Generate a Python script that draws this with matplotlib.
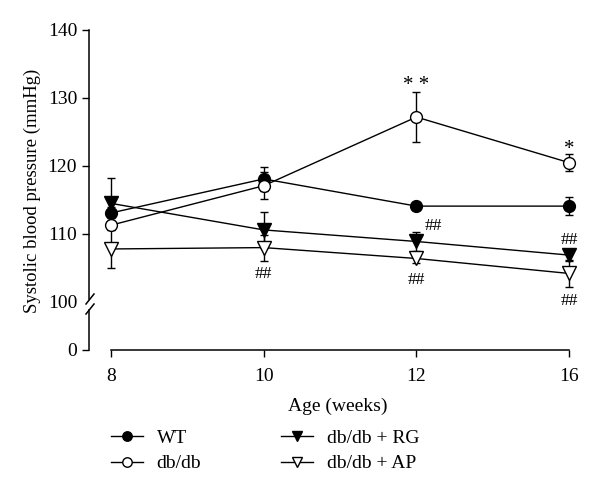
import matplotlib
matplotlib.use("Agg")
import matplotlib.pyplot as plt
from matplotlib.lines import Line2D
import numpy as np

plt.rcParams['font.family'] = ['Liberation Serif', 'DejaVu Serif']

weeks = ['8', '10', '12', '16']
series_names = ['WT', 'db/db', 'db/db + RG', 'db/db + AP']
wt = [113.1, 118.1, 114.1, 114.1]
wt_err = [0.8, 1.8, 0.6, 1.3]
dbdb = [111.3, 117.1, 127.2, 120.5]
dbdb_err = [0.6, 2.0, 3.7, 1.3]
rg = [114.5, 110.6, 108.9, 106.9]
rg_err = [3.7, 2.7, 1.4, 0.8]
ap = [107.8, 108.0, 106.4, 104.2]
ap_err = [2.8, 1.9, 0.6, 2.0]

# significance marks: (text, series, week index, dx, dy in points, size)
annots = [
    ('* *', 1, 2, 0, 23, 15),
    ('*', 1, 3, 0, 9.5, 15),
    ('##', 0, 2, 12, -14.5, 12.5),
    ('##', 2, 3, 0, 11, 12.5),
    ('##', 3, 2, 0, -15.5, 12.5),
    ('##', 3, 3, 0, -19.5, 12.5),
    ('##', 3, 1, 0, -19, 12.5),
]

W, H = 600, 493
fig = plt.figure(figsize=(6.0, 4.93), dpi=100)

def fy(px):
    return (H - px) / H

def fx(px):
    return px / W

ax_l, ax_r = 89, 569
top = fig.add_axes([fx(ax_l), fy(302), fx(ax_r - ax_l), fy(30) - fy(302)])
bot = fig.add_axes([fx(ax_l), fy(350), fx(ax_r - ax_l), fy(310) - fy(350)])

x = np.arange(len(weeks))
data = [wt, dbdb, rg, ap]
errs = [wt_err, dbdb_err, rg_err, ap_err]
markers = ['o', 'o', 'v', 'v']
faces = ['black', 'white', 'black', 'white']
msizes = [8.5, 8.5, 9.5, 9.5]

for vals, e, m, fc, ms in zip(data, errs, markers, faces, msizes):
    cont = top.errorbar(x, vals, yerr=e, color='black', lw=1.0, elinewidth=1.0,
                        capsize=2.6, capthick=1.0, marker=m, ms=ms, mfc=fc,
                        mec='black', mew=1.0, zorder=3)
    for art in cont.get_children():
        art.set_clip_on(False)

for txt, si, wi, dx, dy, fs in annots:
    top.annotate(txt, xy=(x[wi], data[si][wi]), xytext=(dx, dy),
                 textcoords='offset points', ha='center', va='center',
                 fontsize=fs)

for a in (top, bot):
    a.set_xlim(-0.145, 3)
    a.spines['top'].set_visible(False)
    a.spines['right'].set_visible(False)
    a.tick_params(axis='both', direction='out', length=5, width=1.0,
                  labelsize=14, colors='black')
    a.spines['left'].set_linewidth(1.1)
    a.spines['bottom'].set_linewidth(1.1)

top.set_ylim(100, 140)
top.set_yticks([100, 110, 120, 130, 140])
top.spines['bottom'].set_visible(False)
top.spines['left'].set_bounds(100.45, 140)
top.set_xticks([])
top.yaxis.get_major_ticks()[0].tick1line.set_visible(False)

bot.set_ylim(0, 1)
bot.set_yticks([0])
bot.spines['bottom'].set_bounds(0, 3)
bot.set_xticks(x)
bot.set_xticklabels(weeks)
bot.tick_params(axis='x', pad=8)
bot.set_xlabel('Age (weeks)', fontsize=14)
bot.xaxis.set_label_coords((338 - ax_l) / (ax_r - ax_l), -1.2)
bot.patch.set_alpha(0)
top.patch.set_alpha(0)

# break marks
for cy in (299, 309):
    fig.add_artist(Line2D([fx(86), fx(94)], [fy(cy + 5), fy(cy - 5)],
                          color='black', lw=1.1, transform=fig.transFigure))

fig.text(fx(32), fy(191), 'Systolic blood pressure (mmHg)', rotation=90,
         ha='center', va='center', fontsize=13.5)

handles = [Line2D([], [], color='black', lw=1.0, marker=m, ms=ms * 0.8,
                  mfc=fc, mec='black', mew=1.0)
           for m, fc, ms in zip(markers, faces, msizes)]
fig.legend(handles, series_names, loc='upper left',
           bbox_to_anchor=(fx(111), fy(429)), ncol=2, frameon=False,
           fontsize=14, handlelength=1.65, handletextpad=0.7,
           columnspacing=4.1, labelspacing=0.42, borderaxespad=0,
           borderpad=0)

fig.savefig('out.png', dpi=100)
